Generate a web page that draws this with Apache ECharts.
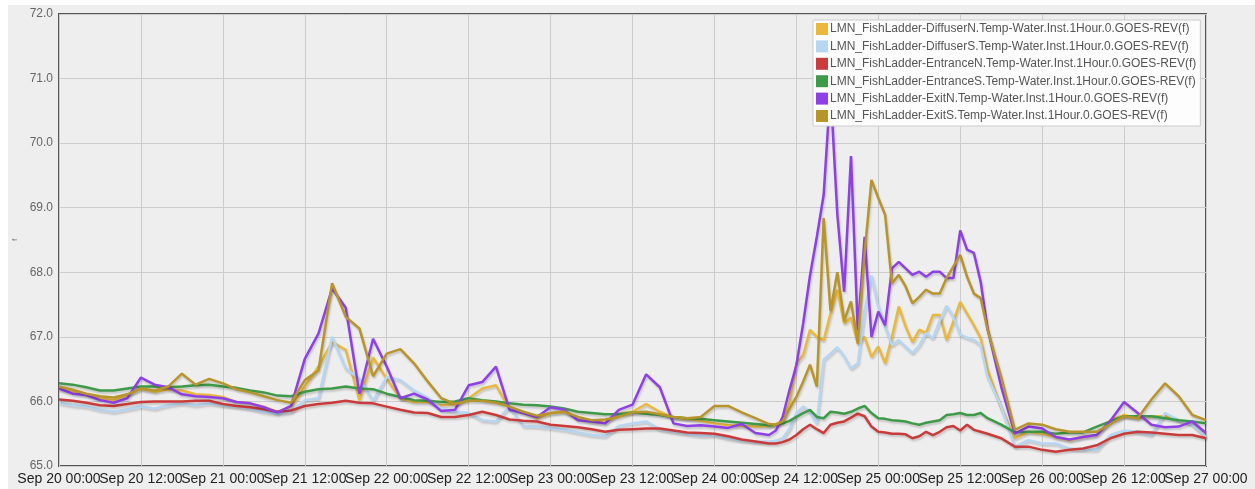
<!DOCTYPE html>
<html>
<head>
<meta charset="utf-8">
<script src="https://cdn.jsdelivr.net/npm/echarts@6/dist/echarts.min.js"></script>
<style>
  html, body { margin: 0; padding: 0; background: #fff; }
  #chart { width: 1255px; height: 489px; }
</style>
</head>
<body>
<div id="chart"></div>
<script>
// hours since Sep 20 00:00 (hourly around the Sep 24/25 spike)
var hours = [
  0, 2, 4, 6, 8, 10, 12, 14, 16, 18, 20, 22, 24, 26, 28, 30, 32, 34, 36, 38, 40, 42, 44, 46, 48, 50,
  52, 54, 56, 58, 60, 62, 64, 66, 68, 70, 72, 74, 76, 78, 80, 82, 84, 86, 88, 90, 92, 94, 96, 98, 100, 102, 104,
  105, 106, 107, 108, 109, 110, 111, 112, 113, 114, 115, 116, 117, 118, 119, 120,
  121, 122, 123, 124, 125, 126, 127, 128, 129, 130, 131, 132, 133, 134, 135, 136,
  138, 140, 142, 144, 146, 148, 150, 152, 154, 156, 158, 160, 162, 164, 166, 168
];

var xTickLabels = [
  "Sep 20 00:00", "Sep 20 12:00", "Sep 21 00:00", "Sep 21 12:00", "Sep 22 00:00",
  "Sep 22 12:00", "Sep 23 00:00", "Sep 23 12:00", "Sep 24 00:00", "Sep 24 12:00",
  "Sep 25 00:00", "Sep 25 12:00", "Sep 26 00:00", "Sep 26 12:00", "Sep 27 00:00"
];

var seriesNames = [
  "LMN_FishLadder-DiffuserN.Temp-Water.Inst.1Hour.0.GOES-REV(f)",
  "LMN_FishLadder-DiffuserS.Temp-Water.Inst.1Hour.0.GOES-REV(f)",
  "LMN_FishLadder-EntranceN.Temp-Water.Inst.1Hour.0.GOES-REV(f)",
  "LMN_FishLadder-EntranceS.Temp-Water.Inst.1Hour.0.GOES-REV(f)",
  "LMN_FishLadder-ExitN.Temp-Water.Inst.1Hour.0.GOES-REV(f)",
  "LMN_FishLadder-ExitS.Temp-Water.Inst.1Hour.0.GOES-REV(f)"
];
var seriesColors = ["#eab93c", "#b6d6f2", "#c93a3a", "#3d9a48", "#8e3fe6", "#b8952a"];

var diffuserN = [
  66.2, 66.15, 66.11, 66.05, 66.02, 66.1, 66.2, 66.15, 66.19, 66.17, 66.11, 66.1, 66.07, 65.99, 65.97, 65.92, 65.84, 65.92, 66.23, 66.54, 66.92, 66.8, 66.02, 66.68, 66.35, 66.05,
  65.99, 65.99, 65.94, 65.96, 66.05, 66.2, 66.25, 65.89, 65.84, 65.74, 65.82, 65.84, 65.74, 65.69, 65.67, 65.81, 65.84, 65.96, 65.84, 65.75, 65.73, 65.7, 65.66, 65.63, 65.62, 65.61, 65.62,
  65.65, 65.69, 65.97, 66.59, 66.72, 67.11, 67.0, 66.95, 67.36, 67.73, 67.21, 67.3, 66.9, 67.0, 66.69, 66.85,
  66.59, 67.0, 67.47, 67.16, 66.92, 67.11, 67.06, 67.34, 67.34, 66.95, 67.24, 67.54, 67.36, 67.18, 66.98, 66.49,
  65.9, 65.43, 65.53, 65.5, 65.45, 65.4, 65.45, 65.48, 65.71, 65.79, 65.74, 65.77, 65.77, 65.71, 65.66, 65.45
];
var diffuserS = [
  65.98, 65.94, 65.92, 65.87, 65.84, 65.88, 65.92, 65.89, 65.94, 65.97, 65.94, 65.97, 65.94, 65.92, 65.89, 65.84, 65.81, 65.84, 66.02, 66.05, 67.0, 66.51, 66.35, 66.01, 66.38, 66.33,
  66.17, 66.06, 65.89, 65.84, 65.82, 65.71, 65.69, 65.92, 65.62, 65.61, 65.59, 65.56, 65.52, 65.48, 65.46, 65.62, 65.66, 65.69, 65.57, 65.53, 65.5, 65.47, 65.48, 65.43, 65.4, 65.38, 65.38,
  65.39, 65.43, 65.58, 65.82, 65.92, 65.84, 65.66, 66.65, 66.74, 66.84, 66.7, 66.51, 66.59, 67.4, 67.95, 67.47,
  67.16, 66.87, 66.95, 66.85, 66.75, 66.87, 67.06, 66.98, 67.25, 67.48, 67.31, 67.03, 66.99, 66.95, 66.87, 66.38,
  65.92, 65.3, 65.4, 65.35, 65.35, 65.27, 65.25, 65.25, 65.48, 65.55, 65.53, 65.48, 65.82, 65.71, 65.64, 65.45
];
var entranceN = [
  66.03, 66.01, 65.98, 65.94, 65.93, 65.96, 65.99, 66.0, 66.0, 66.0, 66.01, 66.01, 65.96, 65.93, 65.91, 65.88, 65.84, 65.86, 65.93, 65.96, 65.98, 66.01, 65.98, 65.97, 65.92, 65.87,
  65.83, 65.82, 65.76, 65.76, 65.79, 65.84, 65.79, 65.72, 65.7, 65.69, 65.64, 65.62, 65.6, 65.57, 65.53, 65.56, 65.57, 65.58, 65.58, 65.55, 65.52, 65.51, 65.5, 65.46, 65.41, 65.38, 65.35,
  65.35, 65.37, 65.41, 65.48, 65.57, 65.64, 65.57, 65.51, 65.64, 65.67, 65.69, 65.75, 65.81, 65.77, 65.61, 65.53,
  65.52, 65.5, 65.5, 65.49, 65.43, 65.46, 65.53, 65.48, 65.53, 65.6, 65.62, 65.55, 65.64, 65.56, 65.53, 65.5,
  65.43, 65.3, 65.3, 65.25, 65.22, 65.25, 65.27, 65.32, 65.43, 65.5, 65.53, 65.52, 65.5, 65.48, 65.48, 65.43
];
var entranceS = [
  66.28, 66.26, 66.22, 66.17, 66.17, 66.2, 66.23, 66.23, 66.22, 66.23, 66.25, 66.26, 66.23, 66.21, 66.17, 66.14, 66.09, 66.08, 66.15, 66.19, 66.2, 66.23, 66.2, 66.19, 66.12, 66.07,
  66.02, 66.01, 65.99, 66.0, 66.05, 66.02, 66.0, 65.97, 65.95, 65.94, 65.92, 65.89, 65.84, 65.82, 65.8, 65.8, 65.83, 65.81, 65.79, 65.76, 65.74, 65.73, 65.71, 65.69, 65.67, 65.65, 65.63,
  65.64, 65.66, 65.7, 65.76, 65.82, 65.87, 65.76, 65.74, 65.84, 65.83, 65.81, 65.84, 65.89, 65.93, 65.82, 65.74,
  65.73, 65.71, 65.7, 65.69, 65.66, 65.64, 65.67, 65.69, 65.71, 65.79, 65.8, 65.82, 65.79, 65.79, 65.82, 65.74,
  65.64, 65.52, 65.53, 65.53, 65.5, 65.52, 65.52, 65.61, 65.69, 65.77, 65.77, 65.77, 65.74, 65.71, 65.69, 65.66
];
var exitN = [
  66.2, 66.12, 66.1, 66.02, 65.98, 66.05, 66.37, 66.26, 66.22, 66.11, 66.08, 66.07, 66.05, 65.99, 65.97, 65.91, 65.83, 65.93, 66.66, 67.05, 67.75, 67.45, 66.12, 66.97, 66.54, 66.05,
  66.12, 66.03, 65.85, 65.87, 66.25, 66.3, 66.54, 65.87, 65.82, 65.76, 65.91, 65.87, 65.71, 65.69, 65.66, 65.87, 65.95, 66.42, 66.22, 65.66, 65.62, 65.63, 65.61, 65.59, 65.65, 65.51, 65.48,
  65.55, 65.76, 66.18, 66.56, 67.21, 67.95, 68.55, 69.2, 70.85, 68.9, 67.7, 69.8, 67.1, 68.55, 67.0, 67.39,
  67.18, 68.06, 68.16, 68.06, 67.96, 68.01, 67.93, 68.01, 68.01, 67.91, 67.91, 68.65, 68.35, 68.3, 67.85, 67.13,
  66.23, 65.5, 65.61, 65.58, 65.45, 65.41, 65.45, 65.48, 65.7, 65.99, 65.82, 65.64, 65.6, 65.61, 65.69, 65.51
];
var exitS = [
  66.23, 66.18, 66.12, 66.08, 66.06, 66.11, 66.2, 66.17, 66.23, 66.43, 66.26, 66.35, 66.28, 66.19, 66.14, 66.08, 66.02, 65.98, 66.33, 66.48, 67.83, 67.31, 67.13, 66.39, 66.74, 66.81,
  66.59, 66.31, 66.05, 65.96, 66.01, 66.01, 65.98, 65.92, 65.84, 65.78, 65.82, 65.84, 65.76, 65.71, 65.72, 65.76, 65.83, 65.84, 65.8, 65.76, 65.74, 65.76, 65.93, 65.93, 65.83, 65.74, 65.65,
  65.64, 65.69, 65.89, 66.07, 66.31, 66.57, 66.23, 68.84, 67.4, 68.0, 67.25, 67.55, 66.9, 68.3, 69.43, 69.15,
  68.89, 67.83, 67.96, 67.78, 67.52, 67.62, 67.73, 67.67, 67.67, 67.91, 68.09, 68.27, 67.93, 67.67, 67.6, 67.11,
  66.38, 65.56, 65.66, 65.64, 65.57, 65.53, 65.53, 65.53, 65.65, 65.77, 65.74, 66.03, 66.28, 66.08, 65.79, 65.71
];

var allValues = [diffuserN, diffuserS, entranceN, entranceS, exitN, exitS];

(function() {
  var chart = echarts.init(document.getElementById("chart"));

  var series = allValues.map(function(vals, idx) {
    return {
      name: seriesNames[idx],
      type: "line",
      xAxisIndex: 0,
      zlevel: 0,
      z: 2,
      showSymbol: false,
      animation: false,
      color: seriesColors[idx],
      lineStyle: {
        width: 2.5,
        shadowColor: "rgba(0,0,0,0.18)",
        shadowBlur: 2,
        shadowOffsetX: 1,
        shadowOffsetY: 2
      },
      data: hours.map(function(h, i) {
        return [h, vals[i]];
      })
    };
  });

  var option = {
    animation: false,
    textStyle: { fontFamily: "Liberation Sans, Arial, sans-serif" },
    graphic: [
      {
        type: "rect",
        z: -100,
        silent: true,
        shape: { x: 8, y: 5, width: 1247, height: 484 },
        style: { fill: "#eeeeee" }
      }
    ],
    grid: {
      left: 59,
      right: 49,
      top: 14,
      bottom: 23,
      show: true,
      backgroundColor: "#eeeeee",
      borderColor: "#555555",
      borderWidth: 2
    },
    legend: {
      orient: "vertical",
      left: 813,
      top: 20,
      zlevel: 2,
      z: 100,
      itemWidth: 12,
      itemHeight: 12,
      itemGap: 5.4,
      padding: [3, 4, 4, 3],
      backgroundColor: "#fdfdfd",
      borderColor: "#cccccc",
      borderWidth: 1,
      icon: "rect",
      textStyle: { fontSize: 12, color: "#555", padding: [0, 0, 0, -3] },
      data: seriesNames
    },
    xAxis: [
      {
        // value axis for the data and the 12-hour grid lines
        type: "value",
        min: 0,
        max: 168,
        interval: 12,
        axisLine: { show: false },
        axisTick: { show: false },
        axisLabel: { show: false },
        splitLine: { show: true, lineStyle: { color: "#cccccc", width: 1 } }
      },
      {
        // label-only axis so every date label is drawn
        type: "category",
        position: "bottom",
        boundaryGap: false,
        data: xTickLabels,
        axisLine: { show: false },
        axisTick: { show: false },
        splitLine: { show: false },
        axisLabel: {
          interval: 0,
          fontSize: 14,
          color: "#222",
          margin: 6
        }
      }
    ],
    yAxis: {
      type: "value",
      min: 65,
      max: 72,
      interval: 1,
      name: "f",
      nameLocation: "middle",
      nameRotate: 90,
      nameGap: 40,
      nameTextStyle: { fontSize: 8, color: "#777" },
      axisLine: { show: false },
      axisTick: { show: false },
      splitLine: { show: true, lineStyle: { color: "#cccccc", width: 1 } },
      axisLabel: {
        fontSize: 12,
        color: "#666",
        margin: 6,
        formatter: function(v) {
          return v.toFixed(1);
        }
      }
    },
    series: series
  };

  chart.setOption(option);
})();
</script>
</body>
</html>
